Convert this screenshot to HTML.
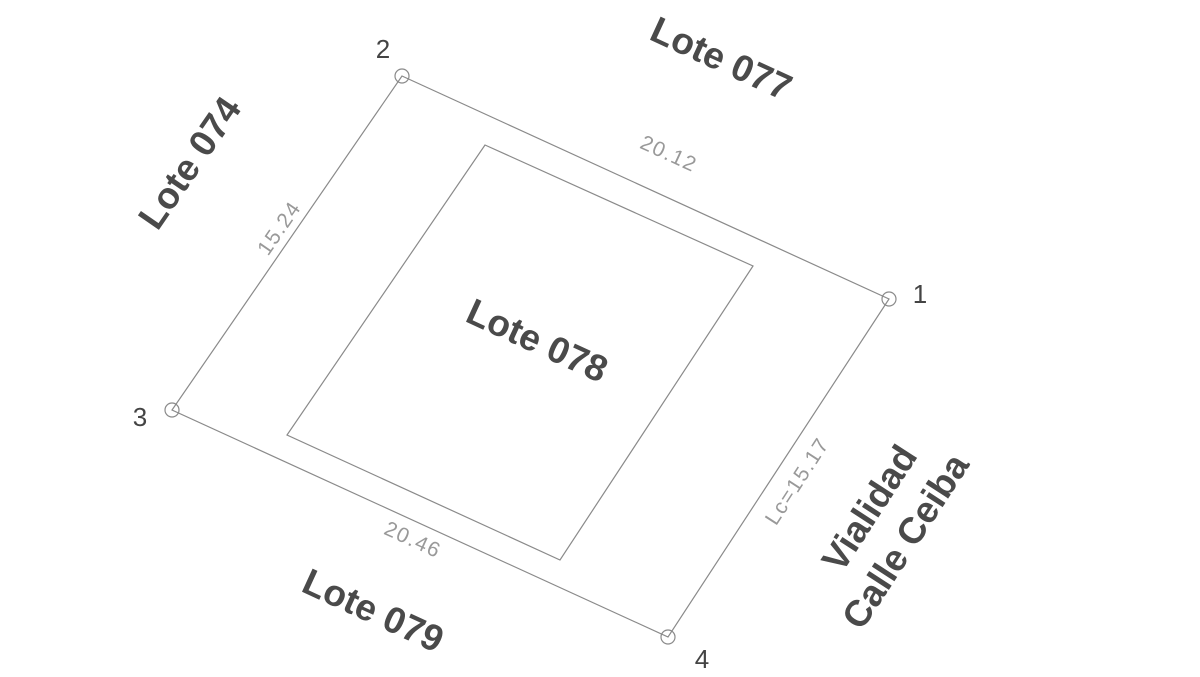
<!DOCTYPE html>
<html><head><meta charset="utf-8"><style>
html,body{margin:0;padding:0;background:#fff;width:1200px;height:677px;overflow:hidden}
svg{display:block}
.b{font-family:"Liberation Sans",sans-serif;font-weight:bold;font-size:37px;fill:#4a4a4a}
.d{font-family:"Liberation Sans",sans-serif;font-size:21px;fill:#999;font-weight:normal;letter-spacing:1.5px}
.n{font-family:"Liberation Sans",sans-serif;font-size:26px;fill:#444}
</style></head><body>
<svg width="1200" height="677" viewBox="0 0 1200 677">
<g fill="none" stroke="#8a8a8a" stroke-width="1.2">
<polygon points="402,76 889,299 668,637 172,410"/>
<polygon points="485,145 753,266 560,560 287,435"/>
<circle cx="402" cy="76" r="7"/>
<circle cx="889" cy="299" r="7"/>
<circle cx="172" cy="410" r="7"/>
<circle cx="668" cy="637" r="7"/>
</g>
<text class="n" x="383" y="58" text-anchor="middle">2</text>
<text class="n" x="920" y="303" text-anchor="middle">1</text>
<text class="n" x="140" y="426" text-anchor="middle">3</text>
<text class="n" x="702" y="668" text-anchor="middle">4</text>
<text class="b" text-anchor="middle" transform="translate(716,70) rotate(24.6)">Lote 077</text>
<text class="b" text-anchor="middle" transform="translate(200,170) rotate(-55.5)">Lote 074</text>
<text class="b" text-anchor="middle" transform="translate(532,352) rotate(24.6)">Lote 078</text>
<text class="b" text-anchor="middle" transform="translate(368,622) rotate(24.6)">Lote 079</text>
<text class="b" text-anchor="middle" transform="translate(880,515) rotate(-57)">Vialidad</text>
<text class="b" text-anchor="middle" transform="translate(916,548) rotate(-57)">Calle Ceiba</text>
<text class="d" text-anchor="middle" transform="translate(666,160) rotate(24.6)">20.12</text>
<text class="d" text-anchor="middle" transform="translate(285,232) rotate(-55.5)">15.24</text>
<text class="d" text-anchor="middle" transform="translate(410,546) rotate(24.6)">20.46</text>
<text class="d" text-anchor="middle" transform="translate(803,485) rotate(-57)">Lc=15.17</text>
</svg>
</body></html>
